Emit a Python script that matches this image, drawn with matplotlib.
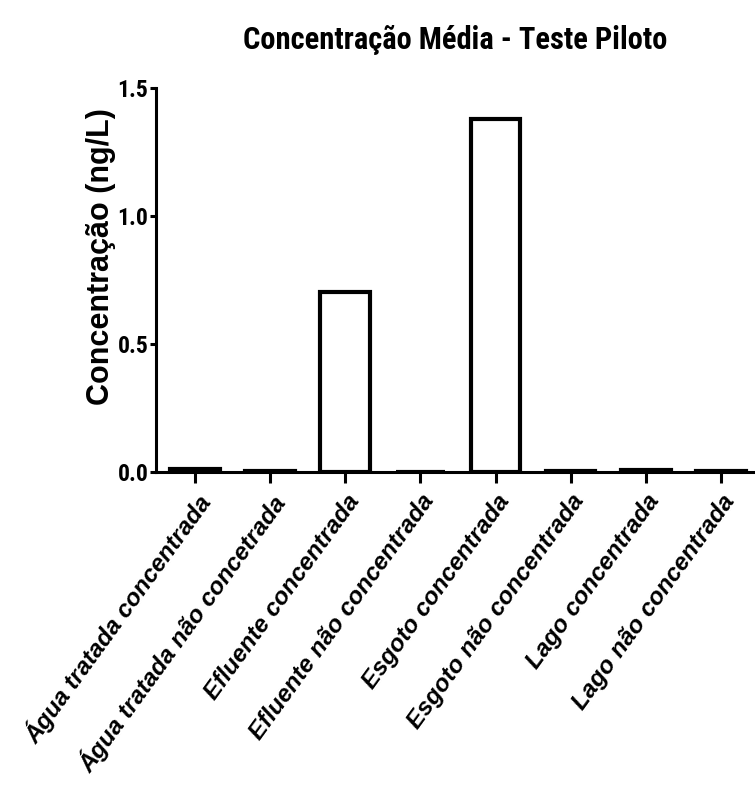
import matplotlib
matplotlib.use("Agg")
import matplotlib.pyplot as plt

# data
categories = ["Água tratada concentrada", "Água tratada não concetrada",
              "Efluente concentrada", "Efluente não concentrada",
              "Esgoto concentrada", "Esgoto não concentrada",
              "Lago concentrada", "Lago não concentrada"]
values = [0.012, 0.004, 0.705, 0.0, 1.378, 0.003, 0.009, 0.005]
yticks = [0.0, 0.5, 1.0, 1.5]

narrow = ["Liberation Sans Narrow", "Roboto Condensed", "Liberation Sans"]
plt.rcParams["font.family"] = ["Liberation Sans", "DejaVu Sans"]

fig = plt.figure(figsize=(7.55, 7.85), dpi=100)
ax = fig.add_axes([0.2066, 0.3987, 0.793, 0.489])

x = list(range(len(categories)))
ax.bar(x, values, width=0.66, color="white", edgecolor="black", linewidth=3)

ax.set_xlim(-0.52, 7.45)
ax.set_ylim(0, 1.5)
ax.set_yticks(yticks)
ax.set_yticklabels(["%.1f" % v for v in yticks], fontsize=17, family=narrow, fontweight="bold")
ax.set_xticks(x)
ax.set_xticklabels(categories, rotation=54, ha="right", rotation_mode="anchor",
                   fontsize=17.5, family=["Liberation Sans", "DejaVu Sans"],
                   fontweight="bold", style="italic")

for s in ["top", "right"]:
    ax.spines[s].set_visible(False)
for s in ["left", "bottom"]:
    ax.spines[s].set_linewidth(2.2)
ax.tick_params(axis="y", width=2.2, length=4.5, pad=1)
ax.tick_params(axis="x", width=2.2, length=8, pad=5)

ax.set_ylabel("Concentração (ng/L)", fontsize=22, fontweight="bold")
ax.yaxis.set_label_coords(-0.066, 0.5625)
fig.text(455 / 755, 1 - 40 / 785, "Concentração Média - Teste Piloto", fontsize=22,
         family=narrow, fontweight="bold", ha="center", va="center")

fig.savefig("out.png", dpi=100)
